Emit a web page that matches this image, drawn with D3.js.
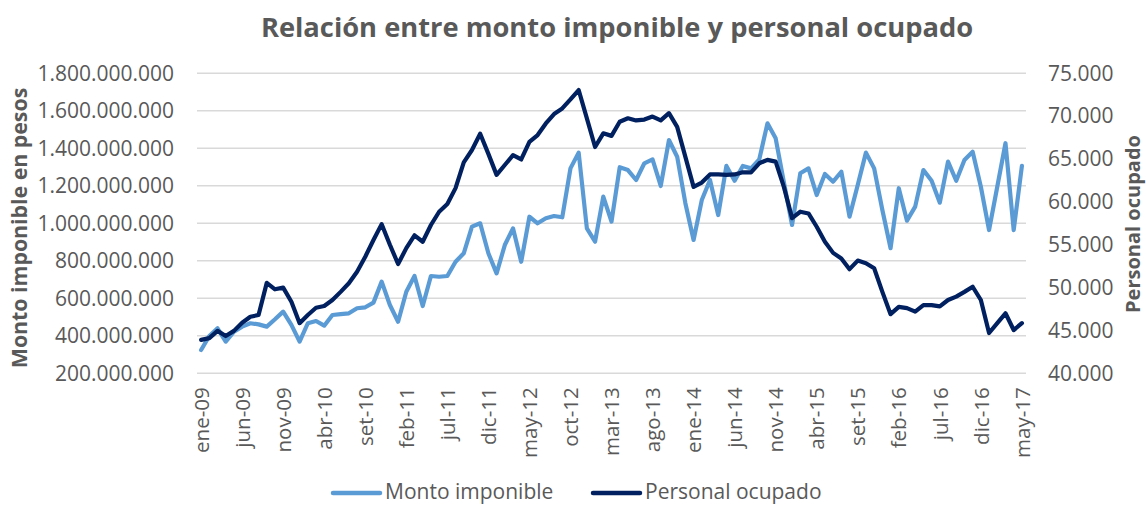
<!DOCTYPE html>
<html>
<head>
<meta charset="utf-8">
<script src="https://cdn.jsdelivr.net/npm/d3@7"></script>
<style>
  body { margin: 0; background: #fff; }
  text { font-family: "Open Sans", sans-serif; }
</style>
</head>
<body>
<div id="chart"></div>
<script>
// meses: ene-09 .. may-17
const mesesCortos = ["ene", "feb", "mar", "abr", "may", "jun", "jul", "ago", "set", "oct", "nov", "dic"];
const anios = [2009, 2010, 2011, 2012, 2013, 2014, 2015, 2016, 2017];

// monto imponible (millones de pesos)
const montoMillones = [
    324, 399, 440, 369, 422, 449, 467, 461, 449, 488, 529, 458,
    369, 467, 479, 454, 511, 516, 520, 547, 552, 577, 689, 564,
    475, 635, 719, 559, 719, 715, 719, 795, 840, 982, 1000, 840,
    733, 884, 973, 795, 1035, 1000, 1027, 1039, 1032, 1293, 1377, 973,
    902, 1142, 1009, 1299, 1284, 1231, 1320, 1341, 1199, 1444, 1355, 1107,
    911, 1124, 1231, 1044, 1306, 1227, 1306, 1293, 1340, 1533, 1453, 1220,
    991, 1267, 1293, 1151, 1263, 1222, 1275, 1035, 1204, 1377, 1293, 1071,
    867, 1187, 1014, 1089, 1284, 1227, 1110, 1329, 1227, 1338, 1382, 1195,
    964, 1195, 1427, 964, 1306
];

// personal ocupado
const personalOcupado = [
    43900, 44100, 44950, 44350, 44950, 45900, 46600, 46800, 50550, 49800, 50000, 48350,
    45850, 46800, 47650, 47850, 48550, 49500, 50500, 51850, 53600, 55550, 57400, 55000,
    52750, 54600, 56100, 55350, 57300, 58850, 59750, 61600, 64600, 66050, 67950, 65600,
    63150, 64300, 65450, 64950, 67000, 67800, 69150, 70250, 70900, 71950, 73050, 69750,
    66400, 68000, 67700, 69350, 69750, 69500, 69600, 69950, 69500, 70350, 68750, 65250,
    61750, 62250, 63200, 63200, 63150, 63200, 63450, 63450, 64500, 64900, 64700, 61750,
    58100, 58850, 58650, 57100, 55350, 54050, 53400, 52150, 53150, 52850, 52250, 49500,
    46900, 47750, 47600, 47200, 47950, 47950, 47800, 48550, 48950, 49500, 50100, 48550,
    44700, 45850, 47000, 45050, 45850
];

const ticksIzq = [200e6, 400e6, 600e6, 800e6, 1000e6, 1200e6, 1400e6, 1600e6, 1800e6];
const ticksDer = [40000, 45000, 50000, 55000, 60000, 65000, 70000, 75000];

const series = [
    { nombre: "Monto imponible", color: "#5b9bd5" },
    { nombre: "Personal ocupado", color: "#002060" }
];

// etiquetas de meses
const etiquetas = [];
anios.forEach(a => mesesCortos.forEach(m => etiquetas.push(m + "-" + String(a).slice(2))));
etiquetas.length = montoMillones.length;

const width = 1146, height = 506;
const margen = { left: 197, right: 1026, top: 73.3, bottom: 373.3 };

const locale = d3.formatLocale({ decimal: ",", thousands: ".", grouping: [3], currency: ["$", ""] });
const fmt = locale.format(",.0f");

const svg = d3.select("#chart").append("svg")
    .attr("width", width)
    .attr("height", height);

const x = d3.scalePoint()
    .domain(etiquetas)
    .range([margen.left, margen.right])
    .padding(0.5);

const yIzq = d3.scaleLinear().domain([200e6, 1800e6]).range([margen.bottom, margen.top]);
const yDer = d3.scaleLinear().domain([40000, 75000]).range([margen.bottom, margen.top]);

// grilla
svg.append("g")
    .selectAll("line")
    .data(ticksIzq)
    .enter()
    .append("line")
    .attr("x1", margen.left)
    .attr("x2", margen.right)
    .attr("y1", d => yIzq(d))
    .attr("y2", d => yIzq(d))
    .attr("stroke", "#d9d9d9")
    .attr("stroke-width", 1.5);

// eje izquierdo
const ejeIzq = svg.append("g")
    .attr("transform", `translate(${margen.left - 23},0)`)
    .call(d3.axisLeft(yIzq).tickValues(ticksIzq).tickFormat(fmt).tickSize(0).tickPadding(0));
ejeIzq.select(".domain").remove();
ejeIzq.selectAll("text")
    .attr("font-family", "Open Sans")
    .attr("font-size", 21)
    .attr("fill", "#595959");

// eje derecho
const ejeDer = svg.append("g")
    .attr("transform", `translate(${margen.right + 22},0)`)
    .call(d3.axisRight(yDer).tickValues(ticksDer).tickFormat(fmt).tickSize(0).tickPadding(0));
ejeDer.select(".domain").remove();
ejeDer.selectAll("text")
    .attr("font-family", "Open Sans")
    .attr("font-size", 21)
    .attr("fill", "#595959");

// eje x
const ejeX = svg.append("g")
    .attr("transform", `translate(0,${margen.bottom})`)
    .call(d3.axisBottom(x)
        .tickValues(etiquetas.filter((d, i) => i % 5 === 0))
        .tickSize(0)
        .tickPadding(0));
ejeX.select(".domain").remove();
ejeX.selectAll("text")
    .attr("font-family", "Open Sans")
    .attr("font-size", 20.5)
    .attr("fill", "#595959")
    .attr("text-anchor", "end")
    .attr("dy", "0.35em")
    .attr("transform", "translate(0,14) rotate(-90)")
    .attr("x", 0)
    .attr("y", 0);

// lineas
const lineaMonto = d3.line()
    .x((d, i) => x(etiquetas[i]))
    .y(d => yIzq(d * 1e6));

const lineaPersonal = d3.line()
    .x((d, i) => x(etiquetas[i]))
    .y(d => yDer(d));

svg.append("path")
    .datum(montoMillones)
    .attr("d", lineaMonto)
    .attr("fill", "none")
    .attr("stroke", series[0].color)
    .attr("stroke-width", 4.2)
    .attr("stroke-linejoin", "round")
    .attr("stroke-linecap", "round");

svg.append("path")
    .datum(personalOcupado)
    .attr("d", lineaPersonal)
    .attr("fill", "none")
    .attr("stroke", series[1].color)
    .attr("stroke-width", 4.2)
    .attr("stroke-linejoin", "round")
    .attr("stroke-linecap", "round");

// titulo
svg.append("text")
    .attr("x", 617)
    .attr("y", 37)
    .attr("text-anchor", "middle")
    .attr("font-size", 27.3)
    .attr("font-weight", "bold")
    .attr("fill", "#595959")
    .text("Relación entre monto imponible y personal ocupado");

// titulos de ejes
svg.append("text")
    .attr("transform", "translate(27,228) rotate(-90)")
    .attr("text-anchor", "middle")
    .attr("font-size", 21.3)
    .attr("font-weight", "bold")
    .attr("fill", "#595959")
    .text("Monto imponible en pesos");

svg.append("text")
    .attr("transform", "translate(1140,224) rotate(-90)")
    .attr("text-anchor", "middle")
    .attr("font-size", 20)
    .attr("font-weight", "bold")
    .attr("fill", "#595959")
    .text("Personal ocupado");

// leyenda
const leyenda = svg.append("g")
    .selectAll("g")
    .data(series)
    .enter()
    .append("g")
    .attr("transform", (d, i) => `translate(${i === 0 ? 333 : 593},493)`);

leyenda.append("line")
    .attr("x1", 0)
    .attr("x2", 47)
    .attr("stroke", d => d.color)
    .attr("stroke-width", 4.5)
    .attr("stroke-linecap", "round");

leyenda.append("text")
    .attr("x", 52)
    .attr("dy", "0.3em")
    .attr("font-size", 21)
    .attr("fill", "#595959")
    .text(d => d.nombre);
</script>
</body>
</html>
